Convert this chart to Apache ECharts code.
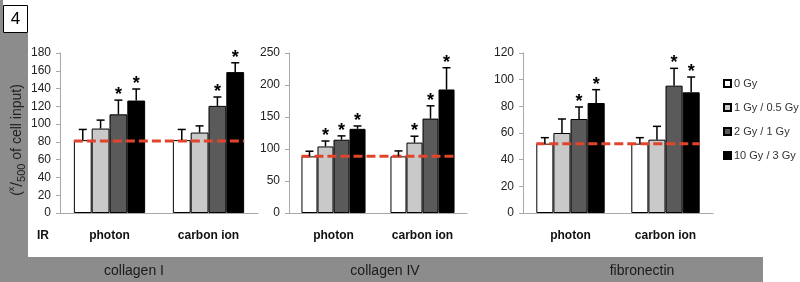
<!DOCTYPE html>
<html>
<head>
<meta charset="utf-8">
<script src="https://cdn.jsdelivr.net/npm/echarts@6/dist/echarts.min.js"></script>
<style>
  html, body { margin: 0; padding: 0; background: #fff; }
  #chart { width: 800px; height: 282px; }
</style>
</head>
<body>
<div id="chart"></div>
<script>
    // values
    const categories = ['photon', 'carbon ion'];
    const doses = ['0 Gy', '1 Gy / 0.5 Gy', '2 Gy / 1 Gy', '10 Gy / 3 Gy'];
    const panels = ['collagen I', 'collagen IV', 'fibronectin'];

    // mean per category, in dose order
    const collagenIMean = [[82, 95, 111, 126.5], [82, 90.5, 120.5, 158.5]];
    const collagenIErr = [[12, 9.5, 16, 13], [12, 7.5, 10, 10.5]];
    const collagenIStar = [[0, 0, 1, 1], [0, 0, 1, 1]];

    const collagenIVMean = [[88.5, 104, 114.5, 131.5], [88.5, 110, 147.5, 193]];
    const collagenIVErr = [[8, 8.5, 6, 4.5], [8.5, 10, 20, 34]];
    const collagenIVStar = [[0, 1, 1, 1], [0, 1, 1, 1]];

    const fibronectinMean = [[52, 60, 70.5, 82.5], [52, 55, 95.5, 90.5]];
    const fibronectinErr = [[4.5, 10.5, 9, 10], [4.5, 10, 13, 11.5]];
    const fibronectinStar = [[0, 0, 1, 1], [0, 0, 1, 1]];

    const controlLevel = [81, 88.5, 52];
    const yMax = [180, 250, 120];
    const yStep = [20, 50, 20];

    const means = [collagenIMean, collagenIVMean, fibronectinMean];
    const errs = [collagenIErr, collagenIVErr, fibronectinErr];
    const stars = [collagenIStar, collagenIVStar, fibronectinStar];

    const doseColors = ['#ffffff', '#c9c9c9', '#5a5a5a', '#000000'];
    const GAP = 0.28;
    const FONT = '"Liberation Sans", Arial, sans-serif';
    const gridPos = [
        {left: 60, width: 198},
        {left: 289, width: 178},
        {left: 523, width: 190}
    ];

    function errRender(params, api) {
        const cat = api.value(0), s = api.value(1), m = api.value(2), e = api.value(3), star = api.value(4);
        const band = api.size([1, 0])[0];
        const bw = band * (1 - GAP) / 4;
        const base = api.coord([cat, m]);
        const top = api.coord([cat, m + e]);
        const x = base[0] + (s - 1.5) * bw;
        const children = [
            {type: 'line', shape: {x1: x, y1: base[1], x2: x, y2: top[1]}, style: {stroke: '#000', lineWidth: 1.5}},
            {type: 'line', shape: {x1: x - 4, y1: top[1], x2: x + 4, y2: top[1]}, style: {stroke: '#000', lineWidth: 1.5}}
        ];
        if (star) {
            children.push({
                type: 'text',
                style: {text: '*', x: x, y: top[1] - 5, align: 'center', verticalAlign: 'middle',
                    font: 'bold 18px ' + FONT, fill: '#000'}
            });
        }
        return {type: 'group', children: children};
    }

    function controlRender(params, api) {
        const v = api.value(1);
        const band = api.size([1, 0])[0];
        const half = band * (1 - GAP) / 2;
        const a = api.coord([0, v]);
        const b = api.coord([categories.length - 1, v]);
        return {
            type: 'line',
            shape: {x1: a[0] - half, y1: a[1], x2: b[0] + half, y2: b[1]},
            style: {stroke: '#e0452c', lineWidth: 3, lineDash: [9, 4]}
        };
    }

    const grid = [], xAxis = [], yAxis = [], series = [];
    panels.forEach((p, pi) => {
        grid.push({left: gridPos[pi].left, width: gridPos[pi].width, top: 53, height: 160});
        xAxis.push({
            type: 'category', gridIndex: pi, data: categories,
            axisLine: {lineStyle: {color: '#a8a8a8', width: 1}},
            axisTick: {length: 4, lineStyle: {color: '#a8a8a8'}},
            axisLabel: {margin: 17, fontFamily: FONT, fontWeight: 'bold', fontSize: 12, color: '#111'},
            splitLine: {show: false}
        });
        yAxis.push({
            type: 'value', gridIndex: pi, min: 0, max: yMax[pi], interval: yStep[pi],
            axisLine: {show: true, lineStyle: {color: '#a8a8a8', width: 1}},
            axisTick: {show: true, length: 4, lineStyle: {color: '#a8a8a8'}},
            axisLabel: {margin: 9, fontFamily: FONT, fontSize: 12, color: '#222'},
            splitLine: {show: false}
        });
        doses.forEach((d, di) => {
            series.push({
                name: d, type: 'bar', xAxisIndex: pi, yAxisIndex: pi,
                data: means[pi].map(row => row[di]),
                barGap: '0%', barCategoryGap: (GAP * 100) + '%',
                itemStyle: {color: doseColors[di], borderColor: '#000', borderWidth: 1},
                z: 2
            });
        });
        series.push({
            type: 'custom', xAxisIndex: pi, yAxisIndex: pi,
            renderItem: controlRender,
            data: [[0, controlLevel[pi]]],
            encode: {x: 0, y: 1},
            z: 3, silent: true
        });
        const errData = [];
        categories.forEach((c, ci) => {
            doses.forEach((d, di) => {
                errData.push([ci, di, means[pi][ci][di], errs[pi][ci][di], stars[pi][ci][di]]);
            });
        });
        series.push({
            type: 'custom', xAxisIndex: pi, yAxisIndex: pi,
            renderItem: errRender,
            data: errData,
            encode: {x: 0, y: 2},
            z: 4, silent: true
        });
    });

    const bandLabelX = [134, 385, 642];
    const graphic = [
        {type: 'rect', shape: {x: 0, y: 0, width: 3, height: 282}, style: {fill: '#8c8c8c'}},
        {type: 'rect', shape: {x: 0, y: 33, width: 28, height: 249}, style: {fill: '#8c8c8c'}},
        {type: 'rect', shape: {x: 0, y: 257, width: 763, height: 25}, style: {fill: '#8c8c8c'}},
        {type: 'rect', shape: {x: 3.5, y: 5.5, width: 24, height: 27}, style: {fill: '#fff', stroke: '#000', lineWidth: 1}},
        {type: 'text', style: {text: '4', x: 15.5, y: 19.5, align: 'center', verticalAlign: 'middle',
            font: '17px ' + FONT, fill: '#000'}},
        {type: 'text', style: {text: 'IR', x: 37, y: 236, align: 'left', verticalAlign: 'middle',
            font: 'bold 12px ' + FONT, fill: '#111'}},
        {
            type: 'text', x: 17, y: 140, rotation: Math.PI / 2,
            style: {
                text: '({sup|x}{sl|/}{sub|500} of cell input)',
                align: 'center', verticalAlign: 'middle',
                font: '14px ' + FONT, fill: '#222',
                rich: {
                    sup: {fontSize: 9, fontFamily: FONT, verticalAlign: 'top', lineHeight: 20, fill: '#222'},
                    sl: {fontSize: 17, fontFamily: FONT, lineHeight: 20, fill: '#222'},
                    sub: {fontSize: 11, fontFamily: FONT, verticalAlign: 'bottom', lineHeight: 20, fill: '#222'}
                }
            }
        }
    ];
    panels.forEach((p, pi) => {
        graphic.push({type: 'text', style: {text: p, x: bandLabelX[pi], y: 271, align: 'center',
            verticalAlign: 'middle', font: '14px ' + FONT, fill: '#1a1a1a'}});
    });

    const chart = echarts.init(document.getElementById('chart'));
    chart.setOption({
        animation: false,
        backgroundColor: '#fff',
        textStyle: {fontFamily: FONT},
        legend: {
            data: doses, orient: 'vertical', left: 718, top: 73,
            itemWidth: 7, itemHeight: 7, itemGap: 13, icon: 'rect',
            textStyle: {fontFamily: FONT, fontSize: 11, fontWeight: 'normal', color: '#333', padding: [0, 0, 0, -2]}
        },
        grid: grid,
        xAxis: xAxis,
        yAxis: yAxis,
        series: series,
        graphic: graphic
    });
</script>
</body>
</html>
